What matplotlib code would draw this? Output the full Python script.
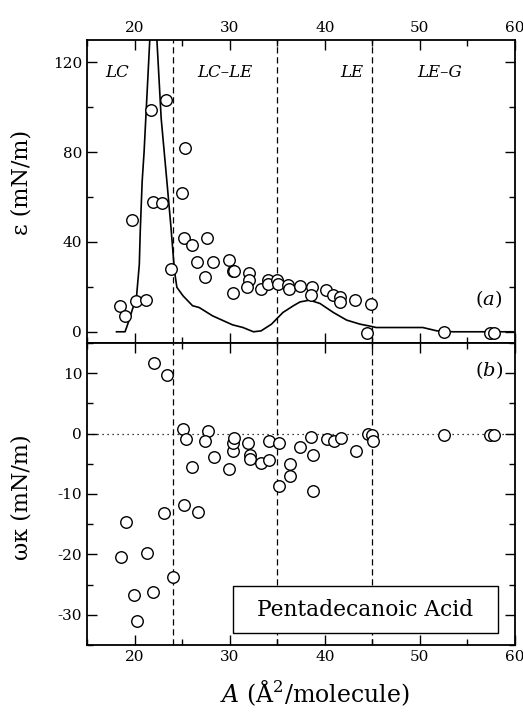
import matplotlib
matplotlib.use("Agg")
import matplotlib.pyplot as plt
from matplotlib.patches import Rectangle
from matplotlib.ticker import MultipleLocator

plt.rcParams['font.family'] = ['DejaVu Serif']
plt.rcParams['mathtext.fontset'] = 'custom'
plt.rcParams['mathtext.rm'] = 'DejaVu Serif'
plt.rcParams['mathtext.it'] = 'DejaVu Serif:italic'
plt.rcParams['axes.unicode_minus'] = False

# ---- data: elasticity epsilon (top panel) ----
eps_A = [21.7, 23.3, 25.3, 25.0, 18.5, 19.0, 19.7, 20.2, 21.2, 21.9, 22.9, 23.8,
         25.2, 26.0, 27.6, 26.6, 27.4, 28.3, 29.9, 30.3, 30.5, 30.3, 32.0, 32.0,
         31.8, 33.3, 34.0, 34.0, 35.0, 35.1, 36.1, 36.2, 37.4, 38.7, 38.6, 40.1,
         40.9, 41.6, 41.6, 43.2, 44.9, 44.4, 52.5, 57.4, 57.8]
eps_val = [98.7, 103.4, 81.7, 61.9, 11.6, 7.1, 49.9, 13.8, 14.1, 57.7, 57.3, 28.0,
           41.8, 38.7, 41.8, 30.9, 24.2, 30.9, 32.0, 26.9, 26.9, 17.4, 26.2, 23.1,
           19.8, 19.1, 23.1, 21.3, 23.1, 21.3, 20.7, 19.1, 20.5, 19.8, 16.4, 18.6,
           16.4, 15.3, 13.1, 14.1, 12.4, -0.6, -0.3, -0.6, -0.6]

# ---- model curve (top panel) ----
curve_A = [18.1, 19.0, 19.3, 19.8, 20.2, 20.5, 20.6, 20.8, 21.0, 21.6, 22.0, 22.35,
           22.8, 23.4, 23.8, 24.2, 24.45, 25.1, 26.1, 26.8, 28.2, 30.3, 31.4, 32.5,
           33.3, 34.4, 35.6, 36.7, 37.4, 38.4, 39.5, 40.9, 42.3, 43.7, 44.9, 45.4,
           50.3, 51.8, 53.5, 57.4, 59.8]
curve_val = [0.0, 0.0, 3.6, 10.3, 15.3, 30.0, 45.0, 67.0, 80.0, 130.0, 145.0, 130.0,
             95.0, 67.0, 48.0, 27.0, 19.8, 16.0, 11.6, 10.8, 7.1, 3.1, 1.9, 0.0,
             0.4, 3.4, 8.6, 11.6, 13.3, 14.1, 12.6, 8.6, 5.2, 3.4, 2.4, 1.9,
             1.9, 0.4, 0.0, 0.0, 0.0]

# ---- data: omega*kappa (bottom panel) ----
wk_A = [22.0, 23.4, 25.1, 25.4, 27.7, 27.4, 26.0, 28.4, 29.9, 30.3, 30.3, 30.5,
        31.9, 32.1, 32.1, 33.3, 34.1, 34.1, 35.2, 35.2, 36.3, 36.3, 37.4, 38.5,
        38.8, 38.8, 40.2, 41.0, 41.7, 43.3, 44.5, 45.0, 45.1, 52.5, 57.4, 57.8,
        19.1, 18.6, 21.3, 19.9, 21.9, 20.3, 23.1, 24.0, 25.2, 26.7]
wk_val = [11.7, 9.7, 0.7, -0.9, 0.5, -1.2, -5.5, -3.8, -5.9, -2.9, -1.5, -0.7,
          -1.5, -3.5, -4.2, -4.9, -4.3, -1.2, -1.5, -8.7, -5.0, -7.0, -2.3, -0.5,
          -3.6, -9.5, -0.9, -1.3, -0.7, -2.8, -0.1, -0.3, -1.3, -0.2, -0.2, -0.2,
          -14.7, -20.5, -19.7, -26.7, -26.3, -31.1, -13.1, -23.7, -11.9, -12.9]

phase_bounds = [24, 35, 45]
phase_labels = ["LC", "LC\u2013LE", "LE", "LE\u2013G"]
phase_label_x = [18.2, 29.5, 42.8, 52.1]

W, H = 523, 713
fig = plt.figure(figsize=(W / 100, H / 100), dpi=100)
left, right = 87 / W, 515 / W
ax1 = fig.add_axes([left, 1 - 343 / H, right - left, 303 / H])
ax2 = fig.add_axes([left, 1 - 645 / H, right - left, 302 / H])

mk = dict(marker='o', ms=8.3, mfc='white', mec='black', mew=1.0, ls='none', zorder=3)

# top panel
ax1.plot(curve_A, curve_val, color='black', lw=1.2, zorder=2)
ax1.plot(eps_A, eps_val, **mk)
for b in phase_bounds:
    ax1.axvline(b, color='black', ls=(0, (5, 3)), lw=0.9, zorder=1)
ax1.set_xlim(15, 60)
ax1.set_ylim(-5, 130)
ax1.yaxis.set_major_locator(MultipleLocator(40))
ax1.yaxis.set_minor_locator(MultipleLocator(20))
ax1.set_ylabel("\u03b5 (mN/m)", fontsize=16)
ax1.yaxis.set_label_coords(-0.128, 0.53)
for lab, xx in zip(phase_labels, phase_label_x):
    ax1.text(xx, 115.5, lab, ha='center', va='center', fontsize=12, style='italic')
ax1.text(57.2, 14.7, "($\\mathit{a}$)", ha='center', va='center', fontsize=14)
ax1.tick_params(labelbottom=False, labeltop=True)

# bottom panel
ax2.axhline(0, color='black', ls=(0, (1, 3)), lw=0.9, zorder=1)
ax2.plot(wk_A, wk_val, **mk)
for b in phase_bounds:
    ax2.axvline(b, color='black', ls=(0, (5, 3)), lw=0.9, zorder=1)
ax2.set_xlim(15, 60)
ax2.set_ylim(-35, 15)
ax2.yaxis.set_major_locator(MultipleLocator(10))
ax2.yaxis.set_minor_locator(MultipleLocator(5))
ax2.set_ylabel("\u03c9\u03ba (mN/m)", fontsize=16)
ax2.yaxis.set_label_coords(-0.128, 0.49)
ax2.set_xlabel("$\\mathit{A}$ (\u00c5$^2$/molecule)", fontsize=17)
ax2.xaxis.set_label_coords(0.533, -0.11)
ax2.text(57.3, 10.5, "($\\mathit{b}$)", ha='center', va='center', fontsize=14)
ax2.add_patch(Rectangle((0.341, 0.040), 0.619, 0.155, transform=ax2.transAxes,
                        fill=True, fc='white', ec='black', lw=1.0, zorder=4))
ax2.text(0.6505, 0.117, "Pentadecanoic Acid", transform=ax2.transAxes, ha='center',
         va='center', fontsize=15.7, zorder=5)

for ax in (ax1, ax2):
    ax.xaxis.set_major_locator(MultipleLocator(10))
    ax.xaxis.set_minor_locator(MultipleLocator(5))
    ax.tick_params(which='both', direction='in', top=True, right=True, labelsize=11)
    ax.tick_params(which='major', length=7, width=1.0)
    ax.tick_params(which='minor', length=4, width=1.0)
    for s in ax.spines.values():
        s.set_linewidth(1.3)

fig.savefig("out.png", dpi=100)
